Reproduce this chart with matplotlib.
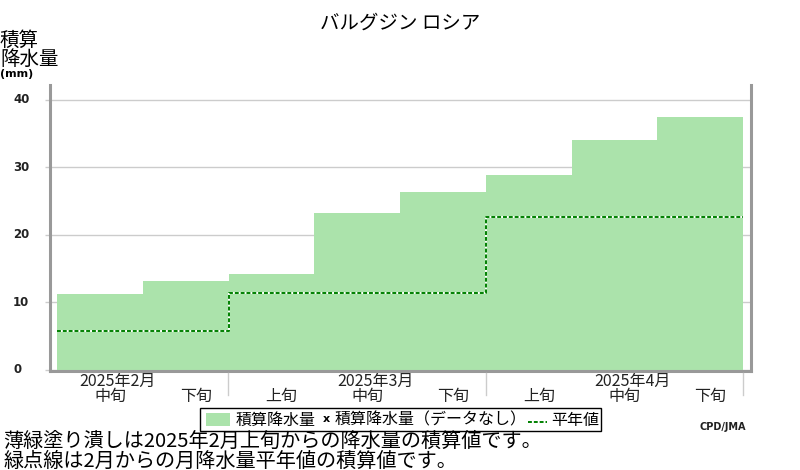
import numpy as np
import matplotlib
matplotlib.use("Agg")
import matplotlib.pyplot as plt
from matplotlib.transforms import blended_transform_factory
from matplotlib.patches import Rectangle
from matplotlib.lines import Line2D

plt.rcParams['font.family'] = ['Noto Sans CJK JP', 'DejaVu Sans']

# データ（旬ごとの積算降水量と平年値の積算）
dekads = ['中旬', '下旬', '上旬', '中旬', '下旬', '上旬', '中旬', '下旬']
months = ['2025年2月', '2025年3月', '2025年4月']
month_label_pos = [0, 3, 6]      # 各月の「中旬」の位置
month_bounds = [2, 5, 8]
accum = [11.2, 13.2, 14.2, 23.3, 26.4, 28.9, 34.1, 37.5]
normal = [5.8, 5.8, 11.4, 11.4, 11.4, 22.6, 22.6, 22.6]
yticks = [0, 10, 20, 30, 40]

W, H = 800, 470
def fx(px):
    return px / W
def fy(py):
    return 1 - py / H

fill_color = '#abe3ab'
gray = '#999999'
light = '#cccccc'

fig = plt.figure(figsize=(8, 4.7), dpi=100)
ax = fig.add_axes([fx(50), fy(371), (751 - 50) / W, (371 - 85) / H])

x = np.arange(len(accum) + 1)
ax.fill_between(x, accum + [accum[-1]], step='post', color=fill_color,
                linewidth=0, zorder=2)
ax.step(x, normal + [normal[-1]], where='post', color='white', lw=1.4, zorder=3)
ax.step(x, normal + [normal[-1]], where='post', color='#008000', lw=1.4,
        dashes=(2, 1), zorder=4)

ax.set_xlim(-0.082, 8.093)
ax.set_ylim(-0.15, 42.2)
ax.set_yticks(yticks)
ax.set_xticks([])
ax.tick_params(axis='y', length=3.6, color=light, width=1, labelleft=False)
ax.grid(axis='y', color=light, lw=1, zorder=1)
ax.set_axisbelow(True)
for s in ['left', 'right', 'bottom']:
    ax.spines[s].set_color(gray)
    ax.spines[s].set_linewidth(2.2)
    ax.spines[s].set_zorder(5)
ax.spines['top'].set_visible(False)

# y 軸目盛ラベル
ty = blended_transform_factory(fig.transFigure, ax.transData)
for v in yticks:
    ax.text(fx(13), v, str(v), transform=ty, ha='left', va='center',
            fontsize=8.5, fontweight='bold', family='DejaVu Sans', color='#222222')

# x 軸ラベル
tx = blended_transform_factory(ax.transData, fig.transFigure)
for i, d in enumerate(dekads):
    ax.text(i + 0.5 + 0.12, fy(396), d, transform=tx, ha='center', va='center',
            fontsize=11.5, color='#222222')
for p, m in zip(month_label_pos, months):
    ax.text(p + 0.5 + 0.21, fy(381), m, transform=tx, ha='center', va='center',
            fontsize=11.5, color='#222222')
for b in month_bounds:
    fig.add_artist(Line2D([fx(50) + b * 85.75 / W + 7 / W] * 2, [fy(373), fy(395)],
                          color=light, lw=1))

# タイトル・軸タイトル
fig.text(0.5, fy(23), 'バルグジン ロシア', ha='center', va='center', fontsize=14)
fig.text(0, fy(40), '積算', ha='left', va='center', fontsize=14)
fig.text(0, fy(59), '降水量', ha='left', va='center', fontsize=14)
fig.text(0, fy(74), '(mm)', ha='left', va='center', fontsize=8,
         fontweight='bold', family='DejaVu Sans')

# 凡例
fig.add_artist(Rectangle((fx(200), fy(431)), (601 - 200) / W, (431 - 408) / H,
                         facecolor='white', edgecolor='black', lw=1))
fig.add_artist(Rectangle((fx(206), fy(426)), 24 / W, 13 / H,
                         facecolor=fill_color, edgecolor='none'))
fig.text(fx(236), fy(420), '積算降水量', ha='left', va='center', fontsize=11.5)
fig.text(fx(323), fy(419), 'x', ha='left', va='center', fontsize=8,
         fontweight='bold', family='DejaVu Sans')
fig.text(fx(335), fy(420), '積算降水量（データなし）', ha='left', va='center',
         fontsize=11.5)
fig.add_artist(Line2D([fx(528), fx(547)], [fy(422), fy(422)], color='#008000',
                      lw=1.4, dashes=(2, 1)))
fig.text(fx(551), fy(420), '平年値', ha='left', va='center', fontsize=11.5)

fig.text(fx(700), fy(427), 'CPD/JMA', ha='left', va='center', fontsize=7,
         fontweight='bold', family='DejaVu Sans', color='#222222')

# 注記
fig.text(fx(3), fy(441), '薄緑塗り潰しは2025年2月上旬からの降水量の積算値です。',
         ha='left', va='center', fontsize=14.5)
fig.text(fx(3), fy(461), '緑点線は2月からの月降水量平年値の積算値です。',
         ha='left', va='center', fontsize=14.5)

fig.savefig('out.png', dpi=100)
